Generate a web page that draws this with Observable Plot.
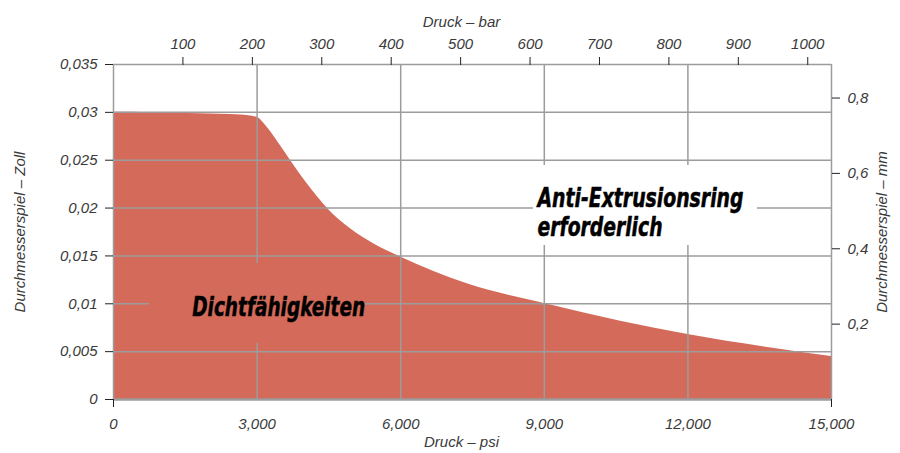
<!DOCTYPE html>
<html><head><meta charset="utf-8">
<script src="https://cdn.jsdelivr.net/npm/d3@7"></script>
<script src="https://cdn.jsdelivr.net/npm/@observablehq/plot@0.6"></script>
<style>html,body{margin:0;padding:0;background:#fff}</style>
</head><body><div id="chart"></div>
<script>
// Curve: pressure (psi) vs diametral clearance (inch)
const psi  = [0, 773, 1817, 2653, 3008, 3140, 3280, 3489, 3698, 4047, 4465, 4951, 5432, 5996, 7390, 9025, 10592, 12027, 14206, 15000];
const zoll = [0.0300, 0.02997, 0.02985, 0.02972, 0.02946, 0.02887, 0.02800, 0.02650, 0.02497, 0.02254, 0.01999, 0.01783, 0.01627, 0.01489, 0.01209, 0.0100, 0.00818, 0.00676, 0.00505, 0.00449];

const xTicks = [0, 3000, 6000, 9000, 12000, 15000];
const xTickLabels = ["0", "3,000", "6,000", "9,000", "12,000", "15,000"];
const yTicks = [0, 0.005, 0.01, 0.015, 0.02, 0.025, 0.03, 0.035];
const yTickLabels = ["0", "0,005", "0,01", "0,015", "0,02", "0,025", "0,03", "0,035"];
const barTicks = [100, 200, 300, 400, 500, 600, 700, 800, 900, 1000];
const mmTicks = [0.2, 0.4, 0.6, 0.8];
const mmTickLabels = ["0,2", "0,4", "0,6", "0,8"];
const PSI_PER_BAR = 14.5038;
const MM_PER_INCH = 25.4;

const RED = "#d46a59";
const GRID = "#9c9c9c";
const TXT = "#3a3a3a";

const data = psi.map((p, i) => ({psi: p, zoll: zoll[i]}));
const bigFont = "'Liberation Sans Narrow', 'DejaVu Sans Condensed', 'Liberation Sans', sans-serif";
const big = {textAnchor: "start", fontSize: 26, fontWeight: "bold", fontStyle: "italic", fontFamily: bigFont, fill: "#000", stroke: "#000", strokeWidth: 0.5};

const chart = Plot.plot({
  width: 900, height: 453,
  marginLeft: 113, marginRight: 69, marginTop: 64, marginBottom: 54,
  style: {fontFamily: "'Liberation Sans', Arial, sans-serif", fontSize: "15px", fontStyle: "italic", color: TXT, background: "#fff"},
  x: {domain: [0, 15000]},
  y: {domain: [0, 0.035]},
  marks: [
    Plot.areaY(data, {x: "psi", y: "zoll", fill: RED, curve: "monotone-x"}),
    Plot.ruleX(xTicks, {stroke: GRID, strokeWidth: 1.5}),
    Plot.ruleY(yTicks.filter(d => d > 0), {stroke: GRID, strokeWidth: 1.5}),
    Plot.ruleY([0], {stroke: GRID, strokeWidth: 2.5}),
    // label knock-out boxes over the grid
    Plot.rect([{a: 752, b: 5265, c: 0.00585, d: 0.01421}], {x1: "a", x2: "b", y1: "c", y2: "d", fill: RED}),
    Plot.rect([{a: 8774, b: 13454, c: 0.01609, d: 0.02445}], {x1: "a", x2: "b", y1: "c", y2: "d", fill: "#fff"}),
    // left axis
    Plot.axisY({anchor: "left", ticks: yTicks, tickFormat: d => yTickLabels[yTicks.indexOf(d)], tickSize: 8, tickPadding: 8, stroke: "#222", fill: TXT, label: null}),
    // right axis (mm)
    Plot.axisY({anchor: "right", ticks: mmTicks.map(m => m / MM_PER_INCH), tickFormat: (d) => mmTickLabels[mmTicks.findIndex(m => Math.abs(m / MM_PER_INCH - d) < 1e-9)], tickSize: 8, tickPadding: 8, stroke: "#222", fill: TXT, label: null}),
    // top axis (bar)
    Plot.axisX({anchor: "top", ticks: barTicks.map(b => b * PSI_PER_BAR), tickFormat: (d) => String(barTicks[barTicks.findIndex(b => Math.abs(b * PSI_PER_BAR - d) < 1e-6)]), tickSize: 8, tickPadding: 8, stroke: "#222", fill: TXT, label: null}),
    // bottom axis (psi)
    Plot.axisX({anchor: "bottom", ticks: xTicks, tickFormat: d => xTickLabels[xTicks.indexOf(d)], tickSize: 0, tickPadding: 19, fill: TXT, label: null}),
    Plot.axisX({anchor: "bottom", ticks: [0, 15000], tickFormat: () => "", tickSize: 8, stroke: "#222", label: null}),
    // axis titles
    Plot.text(["Druck – bar"], {frameAnchor: "top", dx: -11, dy: -48, fill: TXT, fontSize: 15}),
    Plot.text(["Druck – psi"], {frameAnchor: "bottom", dx: -11, dy: 47, fill: TXT, fontSize: 15}),
    Plot.text(["Durchmesserspiel – Zoll"], {frameAnchor: "left", rotate: -90, textAnchor: "middle", dx: -93, fill: TXT, fontSize: 15}),
    Plot.text(["Durchmesserspiel – mm"], {frameAnchor: "right", rotate: -90, textAnchor: "middle", dx: 51, fill: TXT, fontSize: 15}),
    // annotations
    Plot.text(["Dichtfähigkeiten"], {x: 1644, y: 0.00961, ...big}),
    Plot.text(["Anti-Extrusionsring"], {x: 8858, y: 0.02095, ...big}),
    Plot.text(["erforderlich"], {x: 8858, y: 0.01800, ...big})
  ]
});
// condense the bold annotations to the reference widths
const widths = {"Dichtfähigkeiten": 173, "Anti-Extrusionsring": 206, "erforderlich": 125};
d3.select(chart).selectAll("text").each(function() {
  const w = widths[this.textContent];
  if (w) d3.select(this).attr("textLength", w).attr("lengthAdjust", "spacingAndGlyphs");
});
document.getElementById("chart").appendChild(chart);
</script>
</body></html>
